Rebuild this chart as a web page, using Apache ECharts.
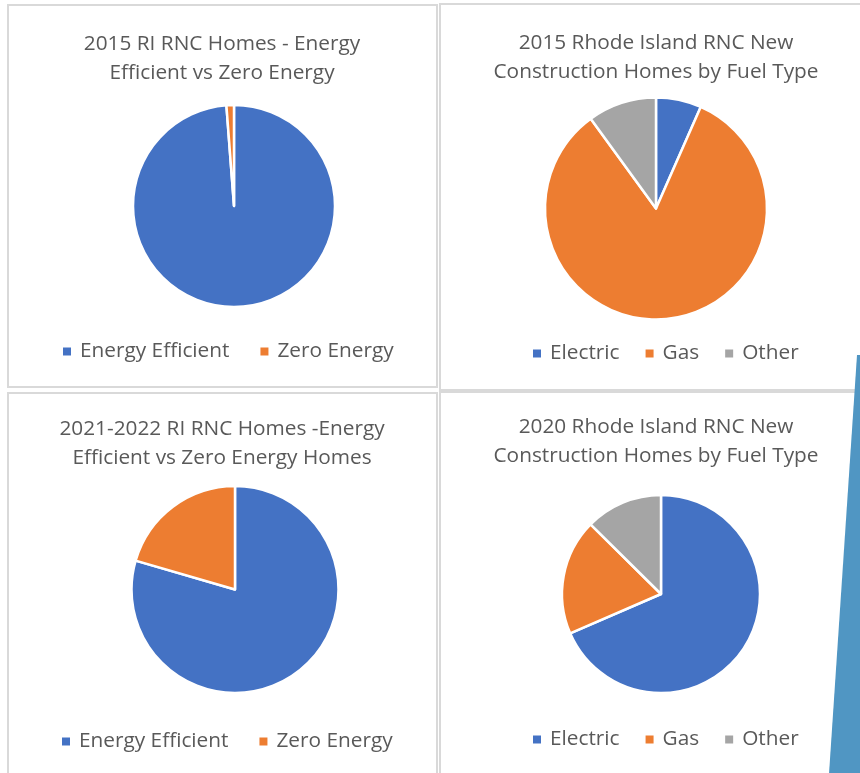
<!DOCTYPE html>
<html>
<head>
<meta charset="utf-8">
<script src="https://cdn.jsdelivr.net/npm/echarts@6/dist/echarts.min.js"></script>
<style>
  html, body { margin: 0; padding: 0; background: #ffffff; }
  #main { width: 860px; height: 773px; }
</style>
</head>
<body>
<div id="main"></div>
<script>
  // 数据
  var efficiencyNames = ['Energy Efficient', 'Zero Energy'];
  var fuelNames = ['Electric', 'Gas', 'Other'];
  var colors = ['#4472C4', '#ED7D31', '#A5A5A5'];

  var homes2015 = [98.8, 1.2];
  var fuel2015 = [6.6, 83.4, 10.0];
  var homes2122 = [79.5, 20.5];
  var fuel2020 = [68.5, 18.9, 12.6];

  var titles = [
    '2015 RI RNC Homes - Energy\nEfficient vs Zero Energy',
    '2015 Rhode Island RNC New\nConstruction Homes by Fuel Type',
    '2021-2022 RI RNC Homes -Energy\nEfficient vs Zero Energy Homes',
    '2020 Rhode Island RNC New\nConstruction Homes by Fuel Type'
  ];

  var fontName = 'Open Sans';
  var textColor = '#595959';

  function buildData(names, values) {
    return names.map(function (n, i) {
      return { name: n, value: values[i], itemStyle: { color: colors[i] } };
    });
  }

  function pieSeries(name, center, radius, names, values) {
    return {
      name: name,
      type: 'pie',
      center: center,
      radius: radius,
      startAngle: 90,
      clockwise: true,
      label: { show: false },
      labelLine: { show: false },
      emphasis: { disabled: true },
      itemStyle: { borderColor: '#ffffff', borderWidth: 2.5 },
      data: buildData(names, values)
    };
  }

  function titleAt(text, x, y) {
    return {
      text: text,
      left: x,
      top: y,
      padding: 0,
      textAlign: 'center',
      textStyle: {
        fontFamily: fontName,
        fontSize: 20.8,
        fontWeight: 'normal',
        color: textColor,
        lineHeight: 29
      }
    };
  }

  function legendAt(names, x, y, gap) {
    return {
      data: names,
      left: x,
      top: y,
      padding: 0,
      icon: 'rect',
      itemWidth: 8,
      itemHeight: 8,
      itemGap: gap,
      selectedMode: false,
      itemStyle: { borderWidth: 0 },
      textStyle: {
        fontFamily: fontName,
        fontSize: 20.8,
        color: textColor,
        padding: [0, 0, 0, 4]
      }
    };
  }

  function panel(x, y, w, h) {
    return {
      type: 'rect',
      shape: { x: x, y: y, width: w, height: h },
      style: { fill: '#ffffff', stroke: '#d9d9d9', lineWidth: 2 },
      z: -10
    };
  }

  var chart = echarts.init(document.getElementById('main'));
  chart.setOption({
    animation: false,
    backgroundColor: '#ffffff',
    graphic: [
      panel(8, 5, 429, 382),
      panel(440, 4, 430, 386),
      panel(8, 393, 429, 390),
      panel(440, 392, 430, 390),
      {
        type: 'polygon',
        shape: { points: [[857, 355], [861, 355], [861, 774], [829, 774]] },
        style: { fill: '#5096C3' },
        z: 10
      }
    ],
    title: [
      titleAt(titles[0], 222, 30),
      titleAt(titles[1], 656, 29),
      titleAt(titles[2], 222, 415),
      titleAt(titles[3], 656, 413)
    ],
    legend: [
      legendAt(efficiencyNames, 63, 341, 31),
      legendAt(fuelNames, 533, 343, 26),
      legendAt(efficiencyNames, 62, 731, 31),
      legendAt(fuelNames, 533, 729, 26)
    ],
    series: [
      pieSeries('2015 RI RNC Homes', [234, 206], 101, efficiencyNames, homes2015),
      pieSeries('2015 Fuel Type', [656, 208.5], 111, fuelNames, fuel2015),
      pieSeries('2021-2022 RI RNC Homes', [235, 589.5], 103.5, efficiencyNames, homes2122),
      pieSeries('2020 Fuel Type', [661, 594], 99, fuelNames, fuel2020)
    ]
  });
</script>
</body>
</html>
